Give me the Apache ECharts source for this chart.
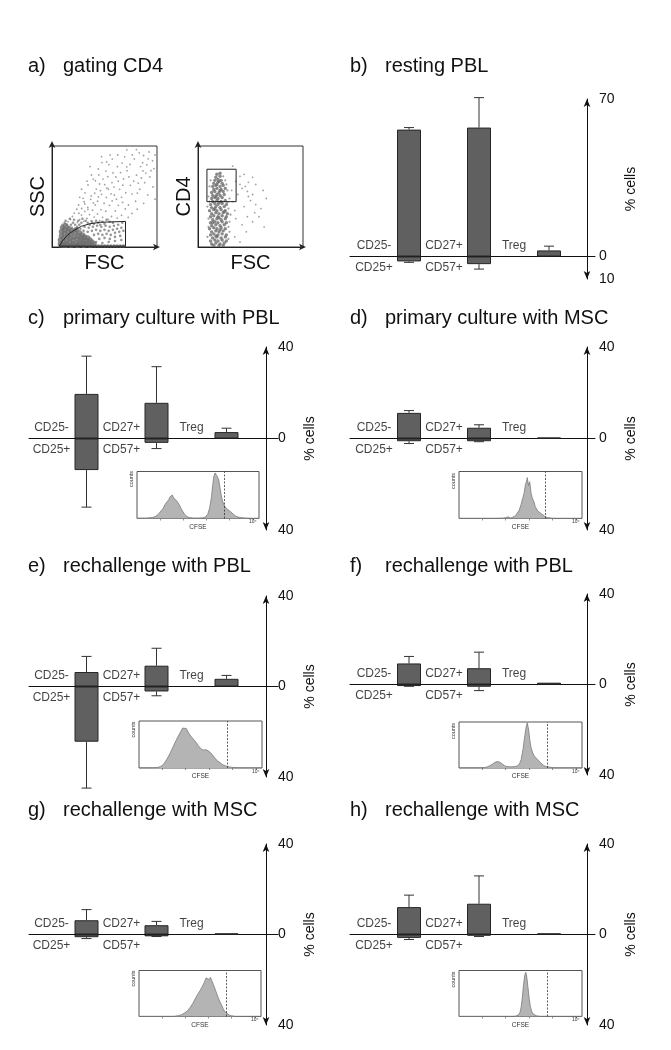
<!DOCTYPE html>
<html><head><meta charset="utf-8">
<script src="https://cdn.jsdelivr.net/npm/echarts@6/dist/echarts.min.js"></script>
<style>html,body{margin:0;padding:0;background:#fff}#c{width:671px;height:1050px}</style>
</head><body><div id="c"></div>
<script>
// ---------- titles ----------
const titleLetters = ['a)','b)','c)','d)','e)','f)','g)','h)'];
const titleTexts = ['gating CD4','resting PBL','primary culture with PBL','primary culture with MSC','rechallenge with PBL','rechallenge with PBL','rechallenge with MSC','rechallenge with MSC'];

// ---------- bar panels b..h ----------
const groupTop = ['CD25-','CD27+','Treg'];
const groupBottom = ['CD25+','CD57+',''];
const upperMean = [[56.4,57.3,2.7],[19.5,15.6,2.8],[11.2,4.7,0.4],[6.4,9.2,3.4],[9.3,7.2,0.8],[6.3,4.1,0.5],[12.1,13.6,0.5]];
const upperErr  = [[57.3,70.6,4.6],[36,31.4,4.5],[12.2,6.0,0.4],[13.3,16.9,4.9],[12.4,14.3,0.8],[11,5.8,0.5],[17.4,25.9,0.5]];
const lowerMean = [[-2.2,-3.4,0],[-13.8,-1.9,0],[-1.2,-1.2,0],[-24.4,-2.2,0],[-0.7,-1.0,0],[-1.2,-0.8,0],[-1.5,-0.5,0]];
const lowerErr  = [[-2.6,-5.6,0],[-30,-4.4,0],[-2.2,-1.4,0],[-44.9,-4.1,0],[-0.8,-2.7,0],[-1.8,-0.9,0],[-2.2,-0.9,0]];
const axisTop = [70,40,40,40,40,40,40];
const axisBottom = [-10,-40,-40,-40,-40,-40,-40];
const axisStep = [10,40,40,40,40,40,40];

// ---------- CFSE histograms (c..h) : [CFSE position %, counts %] ----------
const histC = [[0,1],[2.5,1],[5,1],[7.5,1],[10,1.5],[12.5,2],[15,4],[17.5,9],[20,17],[21.5,22],[23,30],[24.5,28],[26,40],[27,46],[28,42],[29,50],[30,44],[31.5,46],[33,36],[34.5,30],[36,22],[37.5,15],[39,9],[41,4],[43,2],[46,1],[50,1],[54,1.5],[56,3],[58,9],[59.5,22],[61,45],[62,70],[63,90],[64,97],[65,95],[66,88],[67,82],[68,66],[69,50],[70,38],[71.5,28],[73,22],[74.5,19],[76,16],[77.5,14],[79,9],[81,5],[83,3],[86,1.5],[90,1],[95,0.5],[100,0.5]];
const histD = [[0,0.5],[20,0.5],[30,0.5],[36,1],[38,2],[40,3.5],[42,1],[44,3],[46,6],[47.5,10],[49,18],[50.5,30],[52,45],[53,55],[54,72],[55,80],[55.5,87],[56.5,70],[57.5,78],[58.5,55],[59.5,44],[61,35],[62,25],[63,28],[64,16],[65.5,14],[67,10],[68.5,6],[70,4],[72,2],[75,1],[78,0.5],[79,4],[80,0.5],[81,3],[82,0.5],[90,0.5],[100,0.5]];
const histE = [[0,0.5],[12,0.5],[15,1],[17.5,3],[20,8],[22.5,18],[25,30],[27.5,44],[30,58],[32,68],[34,78],[35.5,85],[37,88],[38.5,84],[40,76],[42,68],[44,62],[46,56],[48,48],[50,42],[52,38],[54,39],[56,37],[58,33],[60,27],[62,20],[64,15],[66,11],[68,7],[70,5],[72,3],[75,1.5],[78,1],[82,0.5],[100,0.5]];
const histF = [[0,0.5],[18,0.5],[21,1],[23,2.5],[25,5],[27,8],[29,12],[31,14],[33,13],[35,9],[37,5],[39,3],[42,2.5],[45,3],[47,4],[49,8],[50.5,18],[52,40],[53.5,70],[54.5,88],[55.5,98],[56.5,85],[57.5,62],[58.5,45],[60,32],[61.5,25],[63,21],[64.5,17],[66,12],[67.5,8],[69,5],[71,3],[74,1.5],[78,0.5],[100,0.5]];
const histG = [[0,0.5],[28,0.5],[30,1],[32.5,2],[35,4],[37.5,8],[40,13],[42,20],[44,28],[46,38],[48,48],[50,56],[52,66],[53.5,74],[55,84],[56.5,87],[57.5,80],[58.5,85],[60,76],[61.5,66],[63,55],[64.5,44],[66,34],[67.5,26],[69,17],[70.5,10],[72,6],[74,3],[76,1.5],[79,0.5],[100,0.5]];
const histH = [[0,0.5],[44,0.5],[46,1],[48,3],[49.5,8],[50.5,20],[51.5,42],[52.5,70],[53.5,90],[54.3,96],[55,88],[56,65],[57,40],[58,22],[59,12],[60,6],[61.5,3],[63,1.5],[66,0.5],[100,0.5]];
const histList = [histC,histD,histE,histF,histG,histH];
const cfseGate = [71.9,70.5,71.4,72,71.8,71.7];

// ---------- panel a: FSC/SSC scatter ----------
const sscSparse = [[92.4,94.1],[87.2,90.6],[95.8,85.3],[83.1,93.2],[90.3,81.4],[97.1,77.6],[78.4,87.2],[86.6,75.3],[93.2,69.4],[80.5,71.1],[74.3,81.8],[69.2,89.3],[66.7,83.1],[71.4,75.6],[77.8,65.2],[88.3,63.7],[96.1,59.4],[83.6,57.2],[62.3,79.5],[57.4,87.1],[54.2,81.6],[60.8,69.3],[68.1,67.4],[74.6,61.1],[81.3,53.4],[91.2,51.6],[98.2,47.3],[51.3,75.2],[47.5,83.6],[57.1,63.8],[64.4,57.1],[70.2,53.7],[79.6,45.3],[87.3,43.2],[44.6,71.4],[50.2,61.7],[53.7,57.2],[59.4,51.5],[66.3,49.2],[72.8,41.6],[81.2,37.4],[41.3,65.6],[37.6,71.3],[46.2,55.8],[51.7,49.1],[57.3,45.6],[63.2,41.3],[69.8,37.6],[76.1,33.2],[34.3,61.4],[40.7,53.2],[44.2,49.6],[49.6,43.3],[54.8,41.2],[60.3,35.7],[66.2,31.4],[72.6,29.3],[31.4,53.6],[36.8,47.2],[41.2,41.7],[46.6,37.1],[51.2,35.4],[56.7,30.2],[62.1,28.6],[28.2,57.3],[30.6,44.8],[34.1,39.2],[38.6,36.4],[43.3,32.7],[48.2,29.4],[53.6,27.3],[26.4,49.2],[25.3,41.6],[31.2,35.3],[35.7,32.1],[40.2,29.6],[45.4,26.2],[23.6,37.4],[28.1,31.6],[33.3,28.2],[37.4,26.1],[21.2,33.6],[26.3,27.1],[30.2,25.4],[19.4,30.2],[24.2,24.3],[17.6,27.2],[15.3,25.1],[39.2,67.3],[33.4,65.2],[44.1,77.3],[36.3,79.6],[55.4,91.2],[62.6,91.1],[47.2,89.4],[71.3,96.2],[80.4,96.5],[59.1,59.3],[67.4,61.2],[73.2,69.4],[82.1,63.3],[89.4,73.2],[94.3,75.6],[42.2,57.4],[48.6,67.3],[53.2,69.6],[58.1,73.3],[65.3,73.6],[71.2,79.4],[76.5,91.2],[86.3,83.4],[91.6,87.3],[98.1,91.2],[37.3,50.6],[43.4,45.3],[31.2,42.6],[28.3,38.1],[25.6,33.4],[34.2,37.3],[39.4,43.6],[47.1,52.2],[52.3,58.4],[56.2,52.6],[61.4,47.3],[67.2,44.1],[76.3,52.4],[85.1,68.3],[29.6,48.2],[45.3,62.4],[63.1,65.2],[84.4,79.6],[52.1,84.3]];
const sscMedium = [[10,22],[12,24],[14,22],[16,20],[18,22],[20,24],[22,22],[24,20],[26,22],[28,24],[13,26],[17,28],[21,27],[25,26],[29,28],[32,26],[34,24],[36,22],[38,25],[40,23],[42,26],[44,24],[46,22],[48,25],[50,23],[52,27],[55,25],[58,24],[11,19],[15,18],[19,19],[23,18],[27,18],[31,20],[35,19],[39,20],[43,21],[47,20],[51,21],[55,20],[59,21],[63,22],[67,24],[30,16],[34,15],[38,16],[42,17],[46,16],[50,17],[54,16],[58,17],[62,18],[66,19],[40,12],[44,13],[48,12],[52,13],[56,12],[60,14],[64,15],[68,16],[45,8],[50,9],[55,8],[60,10],[65,11],[42,5],[48,4],[54,5],[60,6],[66,7]];
const sscDense = [[8,3],[8,7],[9,11],[9,15],[10,19],[11,5],[11,9],[12,13],[12,17],[13,21],[14,3],[14,7],[15,11],[15,15],[16,18],[17,5],[17,9],[18,13],[19,16],[20,3],[20,7],[21,10],[22,14],[23,17],[23,4],[24,8],[25,11],[26,14],[26,3],[27,6],[28,9],[29,12],[29,4],[30,7],[31,10],[32,3],[33,6],[34,9],[35,4],[36,7],[38,5],[10,2],[13,1.8],[18,1.8],[24,1.8],[30,1.8],[36,2],[40,3]];
const sscPile = [[8,1],[11,1],[14,1],[17,1],[20,1],[23,1],[26,1],[29,1],[32,1],[35,1],[38,1],[41,1],[44,1],[47,1],[50,1],[53,1],[56,1],[59,1],[62,1],[65,1],[68,1]];
const gateSSC = [[7,1],[10,6],[14,11],[20,16],[28,20.5],[36,23],[46,24.5],[70,25.3],[70,0.8],[7,0.8]];

// ---------- panel a: FSC/CD4 scatter ----------
const cd4Dense = [[13,3],[17,4],[21,3],[25,4],[12,6],[16,7],[19,6],[23,7],[27,6],[14,9],[18,10],[22,9],[26,10],[12,12],[15,13],[19,12],[23,13],[27,12],[13,15],[17,16],[20,15],[24,16],[11,18],[15,19],[18,18],[22,19],[26,18],[13,21],[17,22],[21,21],[25,22],[12,24],[16,25],[19,24],[23,25],[27,24],[14,27],[18,28],[22,27],[26,28],[12,30],[15,31],[19,30],[23,31],[27,30],[13,33],[17,34],[20,33],[24,34],[28,33],[11,36],[15,37],[18,36],[22,37],[26,36],[13,39],[17,40],[21,39],[25,40],[12,42],[16,43],[19,42],[23,43],[27,42],[14,45],[18,46],[22,45],[26,46],[13,48],[16,49],[19,48],[23,49],[14,51],[18,52],[21,51],[25,52],[13,54],[16,55],[20,54],[24,55],[15,57],[18,58],[22,57],[26,58],[14,60],[17,61],[21,60],[24,61],[15,63],[19,64],[23,63],[16,66],[19,67],[22,66],[17,69],[21,70],[18,72],[21,73],[15,1.5],[20,1.5],[24,1.5],[17,11],[21,17],[14,24],[20,29],[25,35],[16,38],[20,44],[17,50],[21,56],[18,62],[20,65]];
const cd4Fringe = [[9,10],[10,28],[9,40],[30,15],[30,25],[29,38],[30,48],[28,56],[10,50],[12,66],[24,70],[26,66],[11,60],[29,8],[31,32],[10,20],[28,44],[27,62],[11,45],[29,20]];
const cd4Sparse = [[40,70],[36,65],[42,58],[45,60],[48,50],[52,52],[50,46],[44,40],[55,42],[58,30],[60,38],[47,30],[52,25],[63,20],[46,15],[35,10],[40,5],[33,45],[38,52],[32,56],[44,72],[55,62],[65,48],[62,56],[48,64],[54,34],[42,22],[36,28],[33,80],[40,62],[47,55],[35,36],[52,69]];
const gateCD4 = [[8.5,44.9],[36.3,44.9],[36.3,77],[8.5,77],[8.5,44.9]];

// ================= layout & option building =================
const FONT = 'Liberation Sans, Arial, Helvetica, sans-serif';
const INK = '#111';
const titleRowCenter = [66.7,66.7,318.3,318.3,566.7,566.7,810.8,810.8];
const titleColX = [28,350,28,350,28,350,28,350];

const title = [];
titleLetters.forEach((t,i)=>{
  const top = titleRowCenter[i]-10;
  title.push({text:t,left:titleColX[i],top,padding:0,textStyle:{fontSize:20,fontWeight:'normal',color:INK,fontFamily:FONT}});
  title.push({text:titleTexts[i],left:titleColX[i]+35,top,padding:0,textStyle:{fontSize:20,fontWeight:'normal',color:INK,fontFamily:FONT}});
});

const grid = [], xAxis = [], yAxis = [], series = [];

// ---- panel a scatter grids
const scatterBoxes = [{left:52,top:146,width:105,height:101,yname:'SSC'},{left:198,top:146,width:105,height:101,yname:'CD4'}];
scatterBoxes.forEach((b,i)=>{
  grid.push({left:b.left,top:b.top,width:b.width,height:b.height,show:true,borderColor:'#333',borderWidth:1,outerBoundsMode:'none'});
  xAxis.push({gridIndex:i,type:'value',min:0,max:100,
    axisLine:{show:true,onZero:false,symbol:['none','arrow'],symbolSize:[5,7],symbolOffset:[0,3],lineStyle:{color:'#222',width:1}},
    axisTick:{show:false},axisLabel:{show:false},splitLine:{show:false},
    name:'FSC',nameLocation:'middle',nameGap:6,nameMoveOverlap:false,nameTextStyle:{fontSize:20,color:INK,fontFamily:FONT}});
  yAxis.push({gridIndex:i,type:'value',min:0,max:100,
    axisLine:{show:true,onZero:false,symbol:['none','arrow'],symbolSize:[5,7],symbolOffset:[0,5],lineStyle:{color:'#222',width:1}},
    axisTick:{show:false},axisLabel:{show:false},splitLine:{show:false},
    name:b.yname,nameLocation:'middle',nameRotate:90,nameGap:4,nameMoveOverlap:false,nameTextStyle:{fontSize:20,color:INK,fontFamily:FONT}});
});
const sc = (data,idx,size,color)=>({type:'scatter',xAxisIndex:idx,yAxisIndex:idx,data,symbolSize:size,itemStyle:{color},silent:true,z:2});
series.push(sc(sscSparse,0,1.8,'#8a8a8a'), sc(sscMedium,0,2.6,'#7e7e7e'), sc(sscDense,0,5.5,'#6e6e6e'), sc(sscPile,0,3.5,'#666'));
series.push({type:'line',xAxisIndex:0,yAxisIndex:0,data:gateSSC,symbol:'none',smooth:false,lineStyle:{color:'#222',width:1},z:3,silent:true});
series.push(sc(cd4Sparse,1,1.8,'#8a8a8a'), sc(cd4Fringe,1,2.2,'#888'), sc(cd4Dense,1,3.4,'#6c6c6c'));
series.push({type:'line',xAxisIndex:1,yAxisIndex:1,data:gateCD4,symbol:'none',lineStyle:{color:'#222',width:1},z:3,silent:true});

// ---- bar panels
const barLayout = [ // left, top, width, height, axis x pixel, pixel of slot 0
  [350,99,245,180,587,339],
  [29,347,249,183,266,16.5],
  [350,347,245,183,587,339],
  [29,596,249,181,266,16.5],
  [350,594,245,181,587,339],
  [29,844,249,181,266,16.5],
  [350,844,245,181,587,339]
];
const SLOT = 35;
barLayout.forEach((L,p)=>{
  const gi = grid.length;
  const [left,top,width,height,axisPx,x0] = L;
  grid.push({left,top,width,height,show:false,outerBoundsMode:'none'});
  const mn = axisBottom[p], mx = axisTop[p];
  xAxis.push({gridIndex:gi,type:'value',min:(left-x0)/SLOT,max:(left+width-x0)/SLOT,
    axisLine:{show:true,onZero:true,lineStyle:{color:INK,width:1}},axisTick:{show:false},axisLabel:{show:false},splitLine:{show:false}});
  yAxis.push({gridIndex:gi,type:'value',position:'right',offset:axisPx-(left+width),min:mn,max:mx,interval:axisStep[p],
    axisLine:{show:true,onZero:false,symbol:['arrow','arrow'],symbolSize:[5,8],lineStyle:{color:INK,width:1}},
    axisTick:{show:false},splitLine:{show:false},
    axisLabel:{margin:12,fontSize:14,color:INK,fontFamily:FONT,formatter:v=>(v===mn||v===0||v===mx)?String(Math.abs(v)):''},
    name:'% cells',nameLocation:'middle',nameRotate:90,nameGap:37,nameMoveOverlap:false,nameTextStyle:{fontSize:14,color:INK,fontFamily:FONT}});
  const up = upperMean[p].map((v,k)=>[2*k+2,v]);
  const dn = lowerMean[p].map((v,k)=>[2*k+2, v===0?'-':v]);
  const barStyle = {color:'#606060',borderColor:'#262626',borderWidth:1};
  series.push({type:'bar',xAxisIndex:gi,yAxisIndex:gi,stack:'s'+p,data:up,barWidth:24,itemStyle:barStyle,silent:true,z:3});
  series.push({type:'bar',xAxisIndex:gi,yAxisIndex:gi,stack:'s'+p,data:dn,barWidth:24,itemStyle:barStyle,silent:true,z:3});
  const whisk = [];
  upperMean[p].forEach((v,k)=>{ if(upperErr[p][k]!==v) whisk.push([2*k+2,v,upperErr[p][k]]); });
  lowerMean[p].forEach((v,k)=>{ if(lowerErr[p][k]!==v) whisk.push([2*k+2,v,lowerErr[p][k]]); });
  series.push({type:'custom',xAxisIndex:gi,yAxisIndex:gi,data:whisk,clip:false,silent:true,z:2,
    encode:{x:0,y:[1,2]},
    renderItem:(params,api)=>{
      const x=api.value(0), a=api.value(1), b=api.value(2);
      const p1=api.coord([x,a]), p2=api.coord([x,b]);
      return {type:'group',children:[
        {type:'line',shape:{x1:p1[0],y1:p1[1],x2:p2[0],y2:p2[1]},style:{stroke:'#333',lineWidth:1}},
        {type:'line',shape:{x1:p2[0]-5,y1:p2[1],x2:p2[0]+5,y2:p2[1]},style:{stroke:'#333',lineWidth:1}}
      ]};
    }});
  const lblStyle = {show:true,fontSize:12,color:INK,fontFamily:FONT,formatter:q=>q.value[2]};
  series.push({type:'scatter',xAxisIndex:gi,yAxisIndex:gi,symbolSize:0,itemStyle:{color:'rgba(0,0,0,0)'},silent:true,
    data:groupTop.map((t,k)=>[2*k+1,0,t]),label:Object.assign({position:'top',distance:5},lblStyle)});
  series.push({type:'scatter',xAxisIndex:gi,yAxisIndex:gi,symbolSize:0,itemStyle:{color:'rgba(0,0,0,0)'},silent:true,
    data:groupBottom.map((t,k)=>[2*k+1,0,t]).filter(d=>d[2]!==''),label:Object.assign({position:'bottom',distance:5},lblStyle)});
});

// ---- CFSE insets (c..h)
const insetLayout = [[137,471.5,122,47,32],[459,471.5,123,47,28],[139,721,123,47,30],[459,722,123,46,28],[139,970.5,122,46,30],[459,970.5,123,46,28]];
insetLayout.forEach((L,h)=>{
  const gi = grid.length;
  const [left,top,width,height,cpad] = L;
  grid.push({left,top,width,height,show:true,borderColor:'#555',borderWidth:1,backgroundColor:'#fff',outerBoundsMode:'none'});
  xAxis.push({gridIndex:gi,type:'value',min:0,max:100,
    axisLine:{show:false},
    axisTick:{show:true,customValues:[19,38,57,76,95],length:2,lineStyle:{color:'#666',width:0.7}},
    axisLabel:{show:true,customValues:[95],margin:1,fontSize:5,color:'#333',fontFamily:FONT,formatter:v=>Math.abs(v-95)<0.5?'10⁴':''},
    splitLine:{show:false},
    name:'CFSE',nameLocation:'middle',nameGap:5,nameMoveOverlap:false,nameTextStyle:{fontSize:6.5,color:'#333',fontFamily:FONT}});
  yAxis.push({gridIndex:gi,type:'value',min:0,max:100,axisLine:{show:false},axisTick:{show:false},axisLabel:{show:false},splitLine:{show:false},
    name:'counts',nameLocation:'middle',nameRotate:90,nameGap:3,nameMoveOverlap:false,
    nameTextStyle:{fontSize:5.5,color:'#333',fontFamily:FONT,padding:[0,0,0,cpad]}});
  series.push({type:'line',xAxisIndex:gi,yAxisIndex:gi,data:histList[h],symbol:'none',smooth:false,silent:true,z:4,
    lineStyle:{color:'#7a7a7a',width:0.8},areaStyle:{color:'#b4b4b4',opacity:1},
    markLine:{silent:true,symbol:'none',label:{show:false},lineStyle:{type:[2,1.5],color:'#333',width:0.8},data:[{xAxis:cfseGate[h]}]}});
});

const chart = echarts.init(document.getElementById('c'),null,{renderer:'canvas',width:671,height:1050});
chart.setOption({animation:false,backgroundColor:'#fff',textStyle:{fontFamily:FONT},title,grid,xAxis,yAxis,series});
</script></body></html>
